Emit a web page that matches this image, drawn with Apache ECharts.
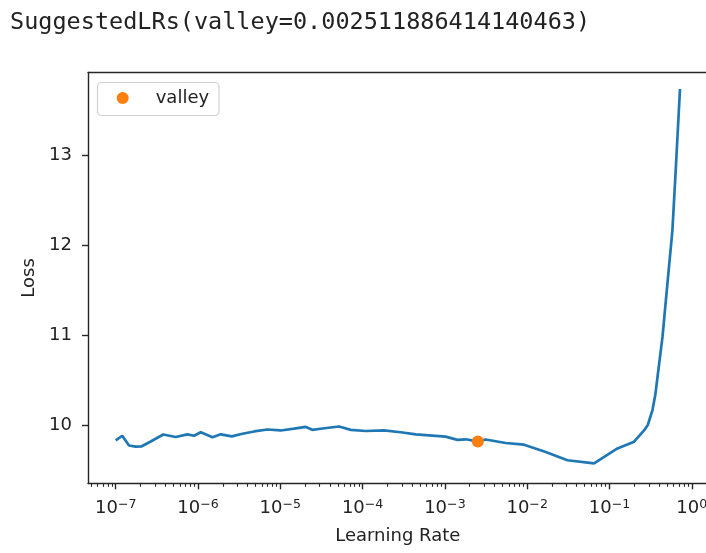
<!DOCTYPE html>
<html>
<head>
<meta charset="utf-8">
<script src="https://cdn.jsdelivr.net/npm/echarts@6/dist/echarts.min.js"></script>
<style>
  html, body { margin: 0; padding: 0; background: #fff; }
  #title { position: absolute; left: 10px; top: 7px; font-family: "DejaVu Sans Mono", "Liberation Mono", monospace; font-size: 23.5px; color: #222; white-space: pre; }
  #chart { position: absolute; left: 0; top: 0; width: 706px; height: 553px; }
</style>
</head>
<body>
<div id="chart"></div>
<div id="title">SuggestedLRs(valley=0.002511886414140463)</div>
<script>
// Learning rates (x) and losses (y)
const learningRates = [
  1.00e-7, 1.20e-7, 1.45e-7, 1.75e-7, 2.07e-7, 2.66e-7, 3.78e-7, 5.36e-7, 7.43e-7, 8.95e-7,
  1.08e-6, 1.50e-6, 1.89e-6, 2.57e-6, 3.47e-6, 4.80e-6, 6.97e-6, 1.01e-5, 1.47e-5, 2.04e-5,
  2.45e-5, 3.25e-5, 5.18e-5, 7.18e-5, 1.09e-4, 1.82e-4, 2.90e-4, 4.43e-4, 1.02e-3, 1.42e-3,
  1.79e-3, 2.48e-3, 3.13e-3, 5.48e-3, 9.16e-3, 1.68e-2, 3.08e-2, 6.49e-2, 0.125, 0.199,
  0.263, 0.292, 0.333, 0.360, 0.386, 0.441, 0.506, 0.582, 0.638, 0.719
];
const losses = [
  9.836, 9.888, 9.780, 9.767, 9.771, 9.824, 9.902, 9.874, 9.904, 9.888,
  9.927, 9.872, 9.904, 9.882, 9.911, 9.936, 9.958, 9.947, 9.967, 9.986,
  9.954, 9.969, 9.991, 9.954, 9.941, 9.947, 9.927, 9.904, 9.878, 9.843,
  9.849, 9.825, 9.847, 9.808, 9.789, 9.708, 9.616, 9.582, 9.747, 9.822,
  9.947, 10.008, 10.174, 10.340, 10.563, 10.989, 11.582, 12.174, 12.841, 13.741
];
const valleyLr = [0.002511886414140463];
const valleyLoss = [9.825];
const legendNames = ['valley'];
const xMajorExponents = [-7, -6, -5, -4, -3, -2, -1, 0];
const xMinorMultipliers = [2, 3, 4, 5, 6, 7, 8, 9];
const yTickValues = [10, 11, 12, 13];
const xAxisTitle = 'Learning Rate';
const yAxisTitle = 'Loss';

const lineData = learningRates.map((lr, i) => [Math.log10(lr), losses[i]]);
const valleyData = valleyLr.map((lr, i) => [Math.log10(lr), valleyLoss[i]]);
const minorTicks = [];
for (let e = -8; e <= 0; e++) {
  xMinorMultipliers.forEach(m => minorTicks.push(Math.log10(m) + e));
}

const X_MIN = -7.337, X_MAX = 0.191, Y_MIN = 9.36, Y_MAX = 13.924;
const spine = { show: true, onZero: false, lineStyle: { color: '#262626', width: 1.4 } };
const fontFam = 'DejaVu Sans';

const chart = echarts.init(document.getElementById('chart'), null, { renderer: 'canvas' });
chart.setOption({
  animation: false,
  backgroundColor: '#fff',
  grid: { left: 88, top: 72.5, width: 619.5, height: 410.8, containLabel: false, outerBoundsMode: 'none' },
  graphic: [{
    type: 'rect', z: 5, silent: true,
    shape: { x: 97.5, y: 82.5, width: 121.5, height: 33, r: 4 },
    style: { fill: 'rgba(255,255,255,0.8)', stroke: '#d0d0d0', lineWidth: 1.2 }
  }],
  legend: {
    data: legendNames,
    left: 116.7, top: 82, z: 10,
    orient: 'vertical',
    icon: 'circle',
    itemWidth: 56, itemHeight: 12,
    padding: [7, 10, 8, 0],
    textStyle: { fontFamily: fontFam, fontSize: 18, color: '#222' }
  },
  xAxis: [
    {
      type: 'value', min: X_MIN, max: X_MAX, position: 'bottom',
      name: xAxisTitle, nameLocation: 'middle', nameGap: 44,
      nameTextStyle: { fontFamily: fontFam, fontSize: 18, color: '#222' },
      axisLine: spine,
      axisTick: { show: true, length: 6, lineStyle: { color: '#262626', width: 1.4 }, customValues: xMajorExponents },
      axisLabel: {
        show: true, margin: 15, customValues: xMajorExponents,
        formatter: v => '{b|10}{s|' + (v < 0 ? '\u2212' + Math.abs(Math.round(v)) : Math.round(v)) + '}',
        rich: {
          b: { fontFamily: fontFam, fontSize: 18, color: '#222', lineHeight: 19, verticalAlign: 'bottom' },
          s: { fontFamily: fontFam, fontSize: 12.6, color: '#222', lineHeight: 19, verticalAlign: 'top' }
        }
      },
      splitLine: { show: false }
    },
    {
      type: 'value', min: X_MIN, max: X_MAX, position: 'bottom',
      axisLine: { show: false, onZero: false },
      axisTick: { show: true, length: 3.5, lineStyle: { color: '#262626', width: 1.1 }, customValues: minorTicks },
      axisLabel: { show: false },
      splitLine: { show: false }
    },
    {
      type: 'value', min: X_MIN, max: X_MAX, position: 'top',
      axisLine: spine, axisTick: { show: false }, axisLabel: { show: false }, splitLine: { show: false }
    }
  ],
  yAxis: [
    {
      type: 'value', min: Y_MIN, max: Y_MAX, position: 'left',
      name: yAxisTitle, nameLocation: 'middle', nameGap: 45, nameRotate: 90,
      nameTextStyle: { fontFamily: fontFam, fontSize: 18, color: '#222' },
      axisLine: spine,
      axisTick: { show: true, length: 6, lineStyle: { color: '#262626', width: 1.4 }, customValues: yTickValues },
      axisLabel: { show: true, margin: 16, customValues: yTickValues, fontFamily: fontFam, fontSize: 18, color: '#222' },
      splitLine: { show: false }
    }
  ],
  series: [
    {
      name: 'loss', type: 'line', xAxisIndex: 0, yAxisIndex: 0,
      data: lineData, showSymbol: false, symbol: 'none',
      lineStyle: { color: '#1f77b4', width: 2.7 }, z: 2, silent: true
    },
    {
      name: 'valley', type: 'scatter', xAxisIndex: 0, yAxisIndex: 0,
      data: valleyData, symbol: 'circle', symbolSize: 12,
      itemStyle: { color: '#ff7f0e', opacity: 1 }, z: 3, silent: true
    }
  ]
});
</script>
</body>
</html>
